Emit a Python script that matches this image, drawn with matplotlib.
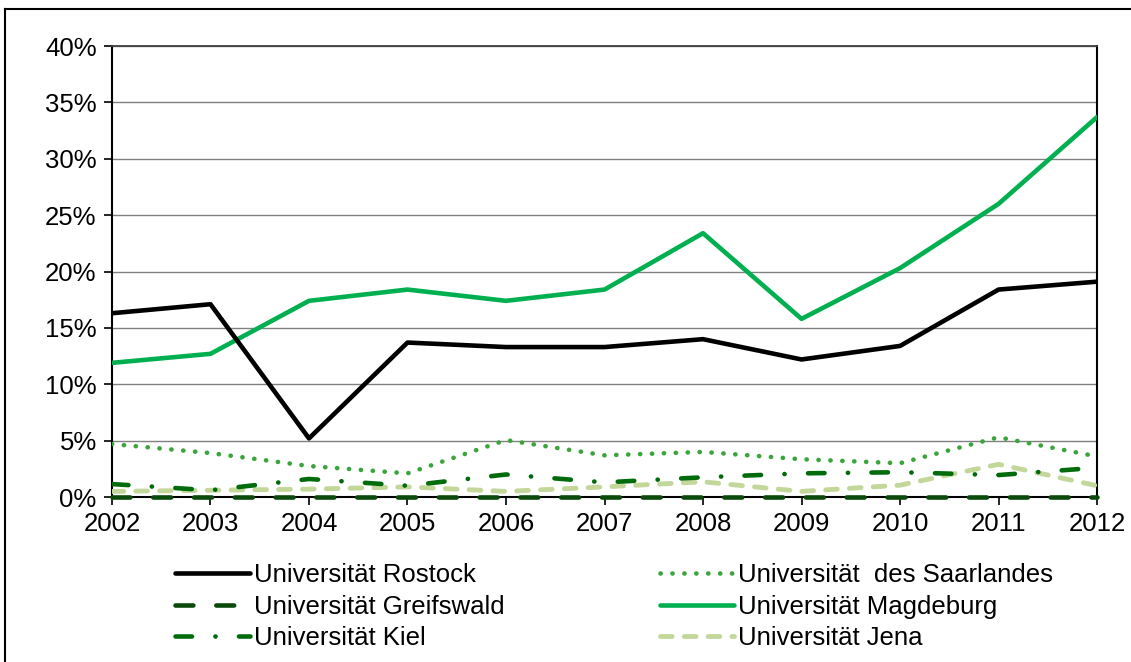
import matplotlib
matplotlib.use("Agg")
import matplotlib.pyplot as plt
from matplotlib.lines import Line2D
from matplotlib.ticker import MultipleLocator, FuncFormatter

plt.rcParams['font.family'] = ['Liberation Sans', 'DejaVu Sans']

years = [2002, 2003, 2004, 2005, 2006, 2007, 2008, 2009, 2010, 2011, 2012]
rostock = [16.3, 17.1, 5.2, 13.7, 13.3, 13.3, 14.0, 12.2, 13.4, 18.4, 19.1]
saarland = [4.7, 3.9, 2.75, 2.1, 5.05, 3.7, 4.0, 3.35, 3.0, 5.3, 3.6]
greifswald = [0, 0, 0, 0, 0, 0, 0, 0, 0, 0, 0]
magdeburg = [11.9, 12.7, 17.4, 18.4, 17.4, 18.4, 23.4, 15.8, 20.3, 26.0, 33.7]
kiel = [1.15, 0.6, 1.6, 1.0, 2.0, 1.3, 1.75, 2.1, 2.2, 1.95, 2.6]
jena = [0.5, 0.6, 0.7, 0.9, 0.5, 0.9, 1.35, 0.5, 1.05, 2.9, 1.0]

labels = ["Universität Rostock", "Universität Greifswald", "Universität Kiel",
          "Universität  des Saarlandes", "Universität Magdeburg", "Universität Jena"]

fig = plt.figure(figsize=(11.31, 6.62), dpi=100)
ax = fig.add_axes([0.099, 0.2492, 0.871, 0.6813])

lw = 3.3
x = list(range(len(years)))
ax.plot(x, jena, color='#c4d79b', lw=lw + 0.2, dashes=(2.4, 2.5), dash_capstyle='round', label=labels[5], zorder=3)
ax.plot(x, greifswald, color='#0a4a0a', lw=lw, dashes=(3.9, 5.0), dash_capstyle='round', label=labels[1], zorder=4, clip_on=False)
ax.plot(x, kiel, color='#006b0a', lw=lw, dashes=(3.6, 5.1, 0.05, 5.1), dash_capstyle='round', label=labels[2], zorder=4)
ax.plot(x, saarland, color='#3aa53a', lw=lw, dashes=(0.05, 2.55), dash_capstyle='round', label=labels[3], zorder=4)
ax.plot(x, magdeburg, color='#00b050', lw=lw, solid_capstyle='round', label=labels[4], zorder=5)
ax.plot(x, rostock, color='#000000', lw=lw, solid_capstyle='round', label=labels[0], zorder=6)

ax.set_xlim(0, len(years) - 1)
ax.set_ylim(0, 40)
ax.set_xticks(x)
ax.set_xticklabels([str(y) for y in years])
ax.yaxis.set_major_locator(MultipleLocator(5))
ax.yaxis.set_major_formatter(FuncFormatter(lambda v, p: f"{int(round(v))}%"))
ax.grid(axis='y', color='#808080', lw=1.0, zorder=0)
ax.set_axisbelow(True)
ax.tick_params(axis='both', direction='out', length=6, width=1.2, labelsize=18.5, colors='black', pad=5)
for s in ['left', 'bottom', 'right']:
    ax.spines[s].set_color('black')
    ax.spines[s].set_linewidth(1.5)
ax.spines['top'].set_color('#404040')
ax.spines['top'].set_linewidth(1.3)

handles, labs = ax.get_legend_handles_labels()
hmap = dict(zip(labs, handles))
leg = fig.legend([hmap[l] for l in labels], labels, ncol=2, loc='upper left',
                 bbox_to_anchor=(0.146, 0.165), bbox_transform=fig.transFigure,
                 frameon=False, fontsize=18.5, handlelength=2.9, handletextpad=0.15,
                 columnspacing=6.05, labelspacing=0.3, borderaxespad=0)

fig.add_artist(Line2D([5 / 1131, 5 / 1131], [1 - 9 / 662, 0], transform=fig.transFigure, color='black', lw=1.5))
fig.add_artist(Line2D([5 / 1131, 1], [1 - 9 / 662, 1 - 9 / 662], transform=fig.transFigure, color='black', lw=1.5))

fig.savefig("out.png", dpi=100)
